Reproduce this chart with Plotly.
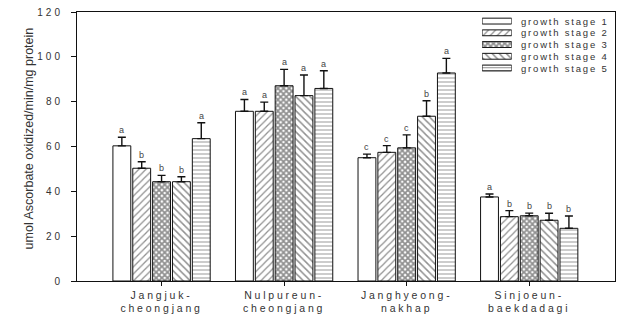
import plotly.graph_objects as go

# Cultivars (x groups) and growth stages (series)
cultivars = ["Jangjuk-<br>cheongjang", "Nulpureun-<br>cheongjang",
             "Janghyeong-<br>nakhap", "Sinjoeun-<br>baekdadagi"]
stages = ["growth stage 1", "growth stage 2", "growth stage 3",
          "growth stage 4", "growth stage 5"]

# Mean activity per stage, one value per cultivar
stage1 = [60.3, 75.7, 55.0, 37.5]
stage2 = [50.3, 75.7, 57.4, 28.7]
stage3 = [44.3, 87.1, 59.4, 29.1]
stage4 = [44.3, 82.7, 73.5, 27.1]
stage5 = [63.5, 85.9, 92.8, 23.5]

# Upper standard-error bars
err1 = [3.8, 5.3, 1.6, 1.3]
err2 = [2.9, 4.1, 3.0, 2.7]
err3 = [2.8, 7.3, 5.8, 1.2]
err4 = [2.2, 9.2, 6.9, 3.1]
err5 = [7.1, 7.9, 6.5, 5.5]

# Significance letters
letters1 = ["a", "a", "c", "a"]
letters2 = ["b", "a", "c", "b"]
letters3 = ["b", "a", "c", "b"]
letters4 = ["b", "a", "b", "b"]
letters5 = ["a", "a", "a", "b"]

y_ticks = [0, 20, 40, 60, 80, 100, 120]

values = [stage1, stage2, stage3, stage4, stage5]
errors = [err1, err2, err3, err4, err5]
letters = [letters1, letters2, letters3, letters4, letters5]

patterns = [
    dict(shape=""),
    dict(shape="/", size=5, solidity=0.25, fgcolor="#222", bgcolor="white"),
    dict(shape="x", size=4, solidity=0.7, fgcolor="#222", bgcolor="white"),
    dict(shape="\\", size=5, solidity=0.3, fgcolor="#222", bgcolor="white"),
    dict(shape="-", size=4, solidity=0.25, fgcolor="#333", bgcolor="white"),
]

FONT = "Liberation Sans, Arial, sans-serif"
INK = "#333"

x_pos = list(range(len(cultivars)))
BARGAP = 0.19
slot = (1 - BARGAP) / len(stages)

fig = go.Figure()
for i, (name, vals, errs) in enumerate(zip(stages, values, errors)):
    fig.add_trace(go.Bar(
        x=x_pos, y=vals, name=name, showlegend=False,
        marker=dict(color="white", line=dict(color="#111", width=1),
                    pattern=patterns[i]),
        error_y=dict(type="data", symmetric=False, array=errs,
                     arrayminus=[0] * len(errs), color="#111",
                     thickness=1.4, width=4),
    ))

# Letters above each error bar
for i in range(len(stages)):
    for g in x_pos:
        fig.add_annotation(
            x=g + (i - 2) * slot, y=values[i][g] + errors[i][g],
            text=letters[i][g], showarrow=False, yanchor="bottom", yshift=0,
            font=dict(family=FONT, size=9, color="#444"),
        )

# Legend drawn as a small inset with one patterned swatch per stage
fig.add_trace(go.Bar(
    x=[1] * len(stages), y=list(range(len(stages))), orientation="h",
    width=0.5, showlegend=False, hoverinfo="skip",
    marker=dict(color="white", line=dict(color="#111", width=1),
                pattern=dict(
                    shape=[p.get("shape", "") for p in patterns],
                    size=[4, 5, 4, 5, 3],
                    solidity=[0.1, 0.25, 0.7, 0.3, 0.35],
                    fgcolor="#222", bgcolor="white")),
    xaxis="x2", yaxis="y2",
))
leg_top, leg_bot = 0.988, 0.770
for k, name in enumerate(stages):
    yk = leg_top - (k + 0.5) * (leg_top - leg_bot) / len(stages)
    fig.add_annotation(
        xref="paper", yref="paper", x=0.822, y=yk, text=name,
        showarrow=False, xanchor="left", yanchor="middle", align="left",
        font=dict(family=FONT, size=9.5, color=INK),
    )

fig.add_annotation(
    xref="paper", yref="paper", x=-0.106, y=0.53,
    text="umol Ascorbate oxidized/min/mg protein", textangle=-90,
    showarrow=False, font=dict(family=FONT, size=12.5, color=INK),
)

fig.update_layout(
    width=617, height=321,
    margin=dict(l=77, r=2, t=12, b=40),
    paper_bgcolor="white", plot_bgcolor="white",
    barmode="group", bargap=BARGAP, bargroupgap=0.1,
    font=dict(family=FONT, size=11, color=INK),
    xaxis=dict(
        range=[-0.69, 3.70], tickvals=x_pos, ticktext=cultivars,
        showline=True, linecolor="#111", linewidth=1, mirror=True,
        ticks="outside", ticklen=4, tickcolor="#111",
        showgrid=False, zeroline=False,
        tickfont=dict(family=FONT, size=10.5, color=INK),
    ),
    yaxis=dict(
        range=[0, 120], tickvals=y_ticks,
        showline=True, linecolor="#111", linewidth=1, mirror=True,
        ticks="outside", ticklen=5, tickcolor="#111",
        showgrid=False, zeroline=False, ticklabelstandoff=6,
        tickfont=dict(family=FONT, size=10, color=INK),
    ),
    xaxis2=dict(domain=[0.753, 0.808], range=[0, 1], anchor="y2",
                visible=False, fixedrange=True),
    yaxis2=dict(domain=[leg_bot, leg_top], range=[4.5, -0.5], anchor="x2",
                visible=False, fixedrange=True),
)

# Wide letter spacing for tick labels and the legend entries
spacing_js = """
var css = document.createElement('style');
css.textContent = '.xtick text{letter-spacing:2.8px}' +
                  '.ytick text{letter-spacing:3px}';
document.head.appendChild(css);
document.querySelectorAll('.annotation-text').forEach(function(t){
  if (t.textContent.indexOf('growth') === 0) {
    t.setAttribute('text-anchor', 'start');
    t.style.textAnchor = 'start';
    t.style.letterSpacing = '1.8px';
  }
});
"""

fig.write_html("out.html", post_script=spacing_js)
